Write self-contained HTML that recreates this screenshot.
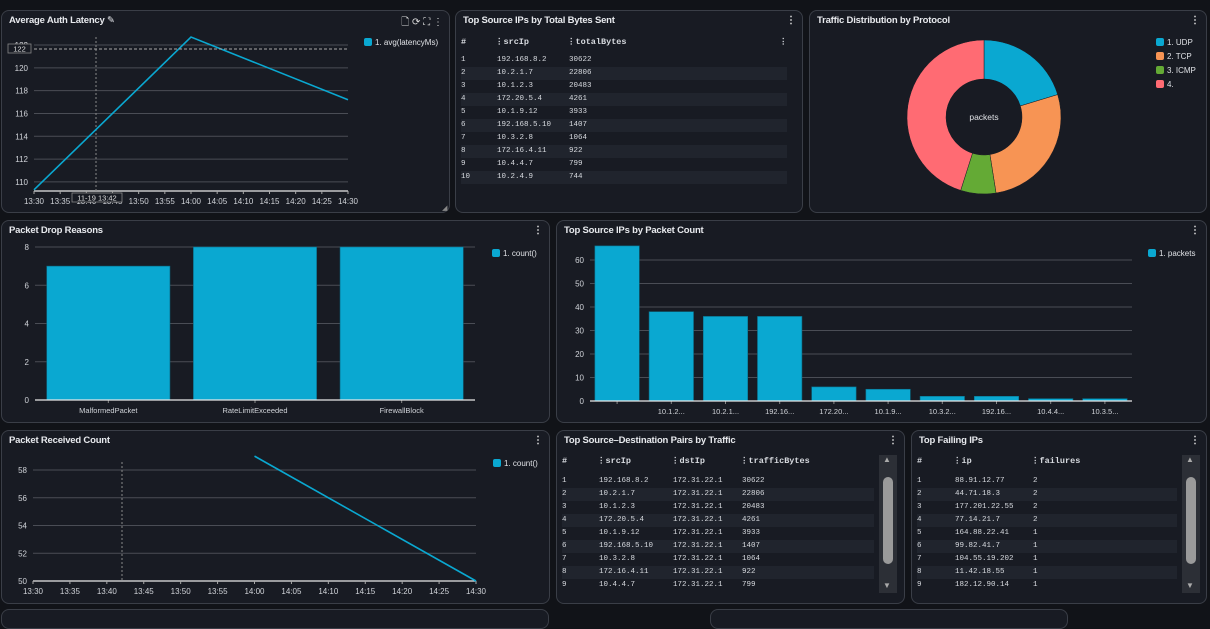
<!DOCTYPE html>
<html><head><meta charset="utf-8">
<style>
*{margin:0;padding:0;box-sizing:border-box}
body{width:1210px;height:611px;background:#111318;overflow:hidden;position:relative;font-family:"Liberation Sans",sans-serif;color:#e6e8ec}
.panel{position:absolute;background:#181b23;border:1px solid #3a3e47;border-radius:8px}
.title{position:absolute;left:7px;top:4px;font-size:9.5px;font-weight:bold;color:#e8eaee;letter-spacing:-0.2px}
.menu{position:absolute;right:6px;top:4px;font-size:10px;color:#ddd;font-weight:bold}
.tbl{position:absolute;font-family:"Liberation Mono",monospace;font-size:7.5px;color:#d8dbe0}
.row{position:absolute;height:13px;line-height:13px;white-space:nowrap}
.row span{position:absolute}
.hdr{font-weight:bold;font-size:8.5px}
.stripe{background:#20242d}
.sb{position:absolute;background:#2c2f36;width:18px}
.sb .thumb{position:absolute;left:4px;width:10px;background:#9a9a9a;border-radius:5px}
.sb .up,.sb .dn{position:absolute;left:4px;font-size:8px;color:#aaa}
svg text{font-family:"Liberation Sans",sans-serif}
</style></head><body>
<div class="panel" style="left:1px;top:10px;width:449px;height:203px">
 <div class="title">Average Auth Latency <span style="font-weight:normal">✎</span></div>
 <div class="menu" style="font-weight:normal">🗋 ⟳ ⛶ ⋮</div>
</div>
<div class="panel" style="left:455px;top:10px;width:348px;height:203px">
 <div class="title">Top Source IPs by Total Bytes Sent</div>
 <div class="menu">⋮</div>
</div>
<div class="panel" style="left:809px;top:10px;width:398px;height:203px">
 <div class="title">Traffic Distribution by Protocol</div>
 <div class="menu">⋮</div>
</div>
<div class="panel" style="left:1px;top:220px;width:549px;height:203px">
 <div class="title">Packet Drop Reasons</div>
 <div class="menu">⋮</div>
</div>
<div class="panel" style="left:556px;top:220px;width:651px;height:203px">
 <div class="title">Top Source IPs by Packet Count</div>
 <div class="menu">⋮</div>
</div>
<div class="panel" style="left:1px;top:430px;width:549px;height:174px">
 <div class="title">Packet Received Count</div>
 <div class="menu">⋮</div>
</div>
<div class="panel" style="left:556px;top:430px;width:349px;height:174px">
 <div class="title">Top Source–Destination Pairs by Traffic</div>
 <div class="menu">⋮</div>
</div>
<div class="panel" style="left:911px;top:430px;width:296px;height:174px">
 <div class="title">Top Failing IPs</div>
 <div class="menu">⋮</div>
</div>
<div class="panel" style="left:1px;top:609px;width:548px;height:20px"></div>
<div class="panel" style="left:710px;top:609px;width:358px;height:20px"></div>

<div id="tables"></div>
<div class="sb" style="left:879px;top:455px;height:138px"><span class="up">▲</span><div class="thumb" style="top:22px;height:87px"></div><span class="dn" style="bottom:3px">▼</span></div>
<div class="sb" style="left:1182px;top:455px;height:138px"><span class="up">▲</span><div class="thumb" style="top:22px;height:87px"></div><span class="dn" style="bottom:3px">▼</span></div>

<svg id="s" width="1210" height="611" style="position:absolute;left:0;top:0" xmlns="http://www.w3.org/2000/svg"></svg>

<script>
// ---- data ----
const timeTicks=["13:30","13:35","13:40","13:45","13:50","13:55","14:00","14:05","14:10","14:15","14:20","14:25","14:30"];
const latencyTimes=[0,30,60]; // minutes from 13:30
const latencyValues=[109.3,122.7,117.2];
const latencyYTicks=[110,112,114,116,118,120,122];
const dropCategories=["MalformedPacket","RateLimitExceeded","FirewallBlock"];
const dropValues=[7,8,8];
const dropYTicks=[0,2,4,6,8];
const pktCategories=["","10.1.2...","10.2.1...","192.16...","172.20...","10.1.9...","10.3.2...","192.16...","10.4.4...","10.3.5..."];
const pktValues=[66,38,36,36,6,5,2,2,1,1];
const pktYTicks=[0,10,20,30,40,50,60];
const recvTimes=[30,60];
const recvValues=[59,50];
const recvYTicks=[50,52,54,56,58];
const protoLabels=["1. UDP","2. TCP","3. ICMP","4."];
const protoValues=[20.3,27.2,7.4,45.1];
const protoColors=["#0aa8d1","#f79454","#64aa35","#ff6b73"];
const bytesIps=["192.168.8.2","10.2.1.7","10.1.2.3","172.20.5.4","10.1.9.12","192.168.5.10","10.3.2.8","172.16.4.11","10.4.4.7","10.2.4.9"];
const bytesVals=[30622,22806,20483,4261,3933,1407,1064,922,799,744];
const failIps=["88.91.12.77","44.71.18.3","177.201.22.55","77.14.21.7","164.88.22.41","99.82.41.7","104.55.19.202","11.42.18.55","182.12.90.14"];
const failVals=[2,2,2,2,1,1,1,1,1];

const S=document.getElementById('s');
const NS="http://www.w3.org/2000/svg";
function el(t,a,txt){const e=document.createElementNS(NS,t);for(const k in a)e.setAttribute(k,a[k]);if(txt!==undefined)e.textContent=txt;S.appendChild(e);return e;}
const CY="#0aa8d1";

function timeChart(o){
  const x=m=>o.x0+(o.x1-o.x0)*m/60;
  const y=v=>o.yb-(v-o.vmin)*(o.yb-o.yt)/(o.vmax-o.vmin);
  o.yticks.forEach(v=>{const g=el('line',{x1:o.x0,x2:o.x1,y1:y(v),y2:y(v),stroke:"#4a4d55","stroke-width":1});
    
    
    const t=el('text',{x:o.x0-6,y:y(v)+3,"font-size":8,fill:"#d0d3d8","text-anchor":"end"},v);
    
    });
  el('line',{x1:o.x0,x2:o.x1,y1:o.yb,y2:o.yb,stroke:"#e8e8e8","stroke-width":1.2});
  timeTicks.forEach((lab,i)=>{const xx=x(i*5);el('line',{x1:xx,x2:xx,y1:o.yb,y2:o.yb+3,stroke:"#aaa"});
    const t=el('text',{x:xx,y:o.yb+13,"font-size":8,fill:"#d0d3d8","text-anchor":"middle"},lab);
    
    });
  el('line',{x1:o.cx,x2:o.cx,y1:o.yt-8,y2:o.yb,stroke:"#888","stroke-dasharray":"2,2"});
  const pts=o.times.map((m,i)=>x(m)+","+y(o.vals[i])).join(" ");
  const l=el('polyline',{points:pts,fill:"none",stroke:CY,"stroke-width":1.6});
  
  
  const r=el('rect',{x:o.lx,y:o.ly-4,width:8,height:8,rx:2,fill:CY});
  
  
  const t=el('text',{x:o.lx+11,y:o.ly+3,"font-size":8,fill:"#e0e2e6"},o.legend);
  
  
  return {x,y};
}
const c1=timeChart({x0:34,x1:348,yt:45,yb:191,vmin:109.2,vmax:122.0+0.0,yticks:latencyYTicks,times:latencyTimes,vals:latencyValues,cx:96,lx:364,ly:42,legend:"1. avg(latencyMs)"});
// crosshair extras for latency chart
el('line',{x1:34,x2:348,y1:49,y2:49,stroke:"#aaa","stroke-dasharray":"3,2"});
el('rect',{x:8,y:44,width:23,height:9,fill:"#181b23",stroke:"#888","stroke-width":0.8});
el('text',{x:19.5,y:51.5,"font-size":7.5,fill:"#ddd","text-anchor":"middle"},"122");
el('rect',{x:72,y:193,width:50,height:9,fill:"#181b23",stroke:"#888","stroke-width":0.8});
el('text',{x:97,y:200.5,"font-size":7.5,fill:"#ddd","text-anchor":"middle"},"11-19 13:42");
el('text',{x:442,y:210,"font-size":7,fill:"#888"},"◢");

timeChart({x0:33,x1:476,yt:470,yb:581,vmin:50,vmax:58,yticks:recvYTicks,times:recvTimes,vals:recvValues,cx:122,lx:493,ly:463,legend:"1. count()"});

function barChart(o){
  const bw=(o.x1-o.x0)/o.cats.length;
  const y=v=>o.yb-v*(o.yb-o.yt)/o.vmax;
  o.yticks.forEach(v=>{if(v>0){const g=el('line',{x1:o.x0,x2:o.x1,y1:y(v),y2:y(v),stroke:"#4a4d55"});
    
    }
    const t=el('text',{x:o.x0-6,y:y(v)+3,"font-size":8,fill:"#d0d3d8","text-anchor":"end"},v);
    
    });
  o.cats.forEach((c,i)=>{const bx=o.x0+i*bw+bw*o.pad;const v=o.vals[i];
    const r=el('rect',{x:bx,y:y(v),width:bw*(1-2*o.pad),height:o.yb-y(v),fill:CY,stroke:"#0a6f8a","stroke-width":0.6});
    
    
    const cx=o.x0+i*bw+bw/2;
    el('line',{x1:cx,x2:cx,y1:o.yb,y2:o.yb+3,stroke:"#888"});
    const t=el('text',{x:cx,y:o.yb+13,"font-size":7.5,fill:"#d0d3d8","text-anchor":"middle"},c);
    
    });
  el('line',{x1:o.x0,x2:o.x1,y1:o.yb,y2:o.yb,stroke:"#e8e8e8","stroke-width":1.2});
  const r=el('rect',{x:o.lx,y:o.ly-4,width:8,height:8,rx:2,fill:CY});
  
  
  const t=el('text',{x:o.lx+11,y:o.ly+3,"font-size":8,fill:"#e0e2e6"},o.legend);
  
  
}
barChart({x0:35,x1:475,yt:247,yb:400,vmax:8,cats:dropCategories,vals:dropValues,yticks:dropYTicks,pad:0.08,lx:492,ly:253,legend:"1. count()"});
barChart({x0:590,x1:1132,yt:260,yb:401,vmax:60,cats:pktCategories,vals:pktValues,yticks:pktYTicks,pad:0.09,lx:1148,ly:253,legend:"1. packets"});

// donut
(function(){
  const cx=984,cy=117,R=77,r=38;const tot=protoValues.reduce((a,b)=>a+b,0);let a0=0;
  protoValues.forEach((v,i)=>{const a1=a0+v/tot*2*Math.PI;
    const p=(a,rr)=>[cx+rr*Math.sin(a),cy-rr*Math.cos(a)];
    const [x1,y1]=p(a0,R),[x2,y2]=p(a1,R),[x3,y3]=p(a1,r),[x4,y4]=p(a0,r);const lg=a1-a0>Math.PI?1:0;
    const s=el('path',{d:`M${x1},${y1}A${R},${R} 0 ${lg} 1 ${x2},${y2}L${x3},${y3}A${r},${r} 0 ${lg} 0 ${x4},${y4}Z`,fill:protoColors[i],stroke:"#181b23","stroke-width":0.5});
    
    
    const sw=el('rect',{x:1156,y:38+i*14,width:8,height:8,rx:2,fill:protoColors[i]});
    
    
    const t=el('text',{x:1167,y:45+i*14,"font-size":8,fill:"#e0e2e6"},protoLabels[i]);
    
    
    a0=a1;});
  el('text',{x:cx,y:cy+3,"font-size":8.5,fill:"#e0e2e6","text-anchor":"middle"},"packets");
})();

// tables
function table(o){
  const T=document.getElementById('tables');
  const h=document.createElement('div');h.className='tbl row hdr';
  
  
  h.style.cssText=`left:${o.x}px;top:${o.y}px;width:${o.w}px`;
  o.cols.forEach((c,i)=>{const s=document.createElement('span');s.style.left=o.cx[i]+'px';s.textContent=(i?'⋮':'')+c;h.appendChild(s);});
  if(o.endIcon){const s=document.createElement('span');s.style.left=(o.w-8)+'px';s.textContent='⋮';h.appendChild(s);}
  T.appendChild(h);
  o.rows.forEach((r,j)=>{const d=document.createElement('div');d.className='tbl row'+(j%2?' stripe':'');
    
    
    d.style.cssText=`left:${o.x}px;top:${o.y0+j*13}px;width:${o.w}px`;
    r.forEach((c,i)=>{const s=document.createElement('span');s.style.left=(o.cx[i]+(i?2:0))+'px';s.textContent=c;d.appendChild(s);});
    T.appendChild(d);});
}
table({x:461,y:36,y0:54,w:326,cols:["#","srcIp","totalBytes"],cx:[0,34,106],endIcon:true,
  rows:bytesIps.map((ip,i)=>[String(i+1),ip,String(bytesVals[i])])});
table({x:562,y:455,y0:475,w:312,cols:["#","srcIp","dstIp","trafficBytes"],cx:[0,35,109,178],
  rows:bytesIps.slice(0,9).map((ip,i)=>[String(i+1),ip,"172.31.22.1",String(bytesVals[i])])});
table({x:917,y:455,y0:475,w:260,cols:["#","ip","failures"],cx:[0,36,114],
  rows:failIps.map((ip,i)=>[String(i+1),ip,String(failVals[i])])});
</script>
</body></html>
